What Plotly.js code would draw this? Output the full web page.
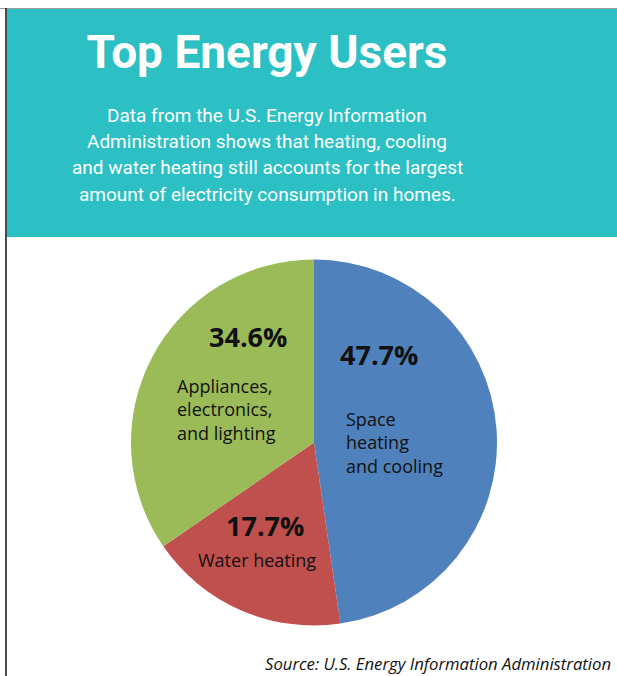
<!DOCTYPE html>
<html>
<head>
<meta charset="utf-8">
<script src="https://cdn.plot.ly/plotly-3.0.1.min.js"></script>
<style>html,body{margin:0;padding:0;background:#fff;}#chart{width:617px;height:676px;}</style>
</head>
<body>
<div id="chart"></div>
<script>
// ---- data ----
const categories = ["Space heating and cooling", "Water heating", "Appliances, electronics, and lighting"];
const labelLines = [["Space", "heating", "and cooling"], ["Water heating"], ["Appliances,", "electronics,", "and lighting"]];
const values = [47.7, 17.7, 34.6];
const colors = ["#4F81BD", "#C0504D", "#9BBB59"];
const titleText = "Top Energy Users";
const subtitleLines = [
  "Data from the U.S. Energy Information",
  "Administration shows that heating, cooling",
  "and water heating still accounts for the largest",
  "amount of electricity consumption in homes."
];
const sourceText = "Source: U.S. Energy Information Administration";

const W = 617, H = 676;
const px = x => x / W;
const py = y => 1 - y / H;

const headFont = "Roboto, 'Liberation Sans', sans-serif";
const labelFont = "'Open Sans', 'Noto Sans', sans-serif";

// label placement (pixel positions of text blocks)
const pctPos = [[379, 354], [265, 525], [248, 336]];
const namePos = [[344, 442, 'left'], [257, 560, 'center'], [175, 409, 'left']];

const annotations = [];
// subtitle
const subY = [115, 141, 167, 194];
subtitleLines.forEach((t, i) => {
  annotations.push({xref:'paper', yref:'paper', x:px(267), y:py(subY[i]), text:t, showarrow:false,
    xanchor:'center', yanchor:'middle', font:{family:headFont, size:19, color:'#ffffff'}});
});
// pie labels
values.forEach((v, i) => {
  annotations.push({xref:'paper', yref:'paper', x:px(pctPos[i][0]), y:py(pctPos[i][1]), text:'<b>' + v.toFixed(1) + '%</b>',
    showarrow:false, xanchor:'center', yanchor:'middle', font:{family:labelFont, size:27, color:'#111111'}});
  annotations.push({xref:'paper', yref:'paper', x:px(namePos[i][0]), y:py(namePos[i][1]), text:labelLines[i].join('<br>'),
    showarrow:false, xanchor:namePos[i][2], align:namePos[i][2], yanchor:'middle', font:{family:labelFont, size:18, color:'#111111'}});
});
// source
annotations.push({xref:'paper', yref:'paper', x:px(612), y:0, text:'<i>' + sourceText + '</i>', showarrow:false,
  xanchor:'right', yanchor:'bottom', borderpad:0, font:{family:labelFont, size:16.7, color:'#111111'}});

const data = [{
  type:'pie', labels:categories, values:values, sort:false, direction:'clockwise', rotation:0,
  marker:{colors:colors, line:{color:'#ffffff', width:0}}, textinfo:'none', hoverinfo:'label+percent',
  domain:{x:[px(131), px(497)], y:[py(626), py(259)]}, showlegend:false
}];

const layout = {
  width:W, height:H, margin:{l:0, r:0, t:0, b:0}, paper_bgcolor:'#ffffff', plot_bgcolor:'#ffffff',
  showlegend:false,
  title:{text:'<b>' + titleText + '</b>', x:px(267), xanchor:'center', xref:'paper', y:py(52), yref:'paper', yanchor:'middle',
    font:{family:headFont, size:46, color:'#ffffff'}},
  shapes:[
    {type:'rect', xref:'paper', yref:'paper', x0:px(7), x1:1, y0:py(237), y1:py(9), fillcolor:'#2CBFC4', line:{width:0}, layer:'below'},
    {type:'line', xref:'paper', yref:'paper', x0:0, x1:1, y0:py(8.5), y1:py(8.5), line:{color:'#9a9a9a', width:1}},
    {type:'line', xref:'paper', yref:'paper', x0:px(6), x1:px(6), y0:0, y1:py(8), line:{color:'#111111', width:1.5}}
  ],
  annotations:annotations
};

Plotly.newPlot('chart', data, layout, {displayModeBar:false, staticPlot:true});
</script>
</body>
</html>
